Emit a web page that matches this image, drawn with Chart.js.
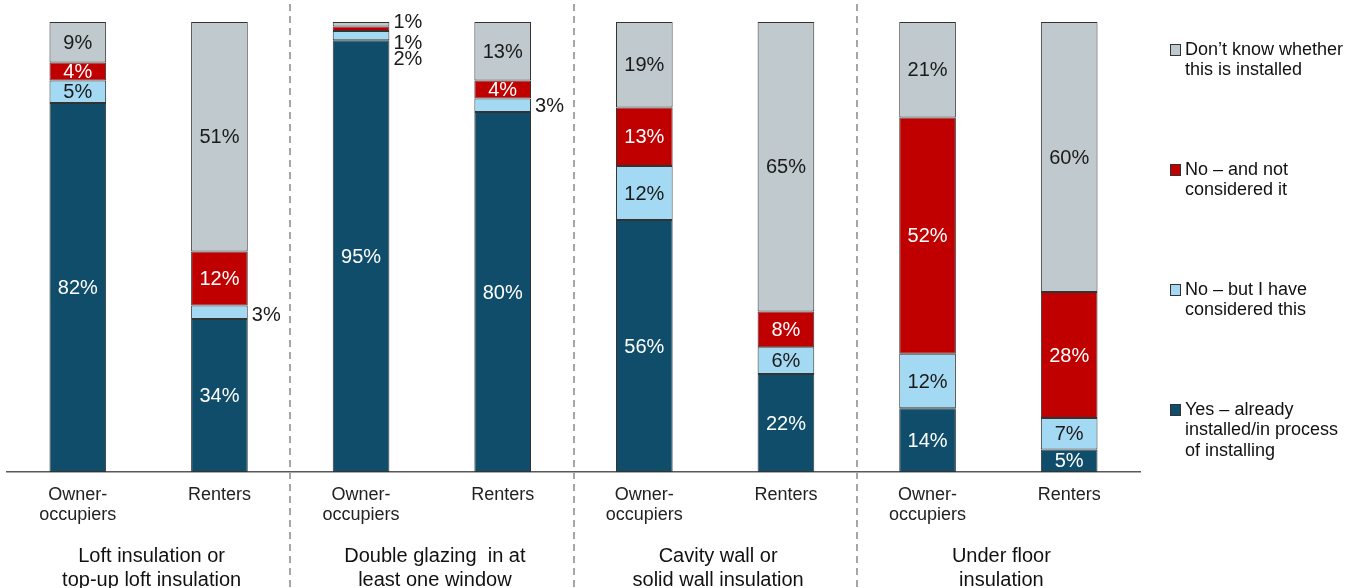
<!DOCTYPE html>
<html>
<head>
<meta charset="utf-8">
<script src="https://cdn.jsdelivr.net/npm/chart.js@4"></script>
<style>
  html, body { margin: 0; padding: 0; background: #fff; }
  #wrap { width: 1361px; height: 588px; }
</style>
</head>
<body>
<div id="wrap"><canvas id="chart" width="1361" height="588"></canvas></div>
<script>
// Bars, left to right
const categories = [
  ['Owner-', 'occupiers'], 'Renters',
  ['Owner-', 'occupiers'], 'Renters',
  ['Owner-', 'occupiers'], 'Renters',
  ['Owner-', 'occupiers'], 'Renters'
];
const groups = [
  ['Loft insulation or', 'top-up loft insulation'],
  ['Double glazing  in at', 'least one window'],
  ['Cavity wall or', 'solid wall insulation'],
  ['Under floor', 'insulation']
];

// Series values (%)
const yesInstalled    = [82, 34, 95, 80, 56, 22, 14, 5];
const noConsidered    = [5, 3, 2, 3, 12, 6, 12, 7];
const noNotConsidered = [4, 12, 1, 4, 13, 8, 52, 28];
const dontKnow        = [9, 51, 1, 13, 19, 65, 21, 60];

const seriesNames = [
  ['Yes \u2013 already', 'installed/in process', 'of installing'],
  ['No \u2013 but I have', 'considered this'],
  ['No \u2013 and not', 'considered it'],
  ['Don\u2019t know whether', 'this is installed']
];
const seriesValues = [yesInstalled, noConsidered, noNotConsidered, dontKnow];
const colors = ['#0f4d6b', '#a4d9f3', '#c00000', '#bfc9ce'];
const labelColors = ['#ffffff', '#1a1a1a', '#ffffff', '#1a1a1a'];

const FONT = '"Liberation Sans", Arial, sans-serif';

// labels placed to the right of the bar: [dataset, index, dy]
const outsideLabels = [[1, 1, 3], [3, 2, -2], [2, 2, 15], [1, 2, 24], [1, 3, 1]];

// bars are drawn as share of their total so every column reaches 100
const totals = categories.map((_, i) => seriesValues.reduce((s, arr) => s + arr[i], 0));

const datasets = seriesValues.map((vals, k) => ({
  label: seriesNames[k].join(' '),
  data: vals.map((v, i) => v / totals[i] * 100),
  raw: vals,
  backgroundColor: colors[k],
  borderColor: '#333',
  borderWidth: 1,
  borderSkipped: false,
  categoryPercentage: 1,
  barPercentage: 0.4
}));

const decorPlugin = {
  id: 'decor',
  beforeDatasetsDraw(chart) {
    const ctx = chart.ctx;
    const x = chart.scales.x;
    ctx.save();
    ctx.strokeStyle = '#a6a6a6';
    ctx.lineWidth = 2;
    ctx.setLineDash([7, 5]);
    [2, 4, 6].forEach(i => {
      const px = Math.round((x.getPixelForValue(i - 1) + x.getPixelForValue(i)) / 2);
      ctx.beginPath();
      ctx.moveTo(px, 4);
      ctx.lineTo(px, chart.height);
      ctx.stroke();
    });
    ctx.restore();
  },
  afterDatasetsDraw(chart) {
    const ctx = chart.ctx;
    ctx.save();
    ctx.font = '20px ' + FONT;
    ctx.textBaseline = 'middle';
    chart.data.datasets.forEach((ds, k) => {
      const meta = chart.getDatasetMeta(k);
      meta.data.forEach((bar, i) => {
        const txt = ds.raw[i] + '%';
        const cy = (bar.y + bar.base) / 2;
        const out = outsideLabels.find(o => o[0] === k && o[1] === i);
        if (out) {
          ctx.fillStyle = '#1a1a1a';
          ctx.textAlign = 'left';
          ctx.fillText(txt, bar.x + bar.width / 2 + 4, cy + out[2]);
        } else {
          ctx.fillStyle = labelColors[k];
          ctx.textAlign = 'center';
          ctx.fillText(txt, bar.x, cy + 1);
        }
      });
    });

    // group titles under the axis
    const x = chart.scales.x;
    ctx.fillStyle = '#111';
    ctx.textAlign = 'center';
    ctx.font = '20px ' + FONT;
    groups.forEach((lines, g) => {
      const cx = (x.getPixelForValue(g * 2) + x.getPixelForValue(g * 2 + 1)) / 2 + 3;
      lines.forEach((ln, j) => ctx.fillText(ln, cx, 556 + j * 24));
    });

    // legend
    ctx.font = '18px ' + FONT;
    ctx.textAlign = 'left';
    const order = [3, 2, 1, 0];
    order.forEach((k, n) => {
      const y0 = 50 + n * 120;
      ctx.fillStyle = colors[k];
      ctx.fillRect(1171, y0 - 5, 9, 10);
      ctx.strokeStyle = '#333';
      ctx.lineWidth = 1;
      ctx.setLineDash([]);
      ctx.strokeRect(1170.5, y0 - 5.5, 10, 11);
      ctx.fillStyle = '#111';
      seriesNames[k].forEach((ln, j) => ctx.fillText(ln, 1185, y0 + j * 20.5));
    });
    ctx.restore();
  }
};

new Chart(document.getElementById('chart').getContext('2d'), {
  type: 'bar',
  data: { labels: categories, datasets },
  options: {
    responsive: false,
    animation: false,
    layout: { padding: { top: 22, left: 7, right: 221, bottom: 0 } },
    plugins: {
      legend: { display: false },
      tooltip: { enabled: false }
    },
    scales: {
      x: {
        stacked: true,
        grid: { display: false, drawTicks: false },
        border: { display: true, color: '#595959', width: 1.5 },
        ticks: {
          padding: 13,
          color: '#222',
          maxRotation: 0,
          autoSkip: false,
          font: { family: FONT, size: 18, lineHeight: 1.12 }
        },
        afterFit(scale) { scale.height = 116; }
      },
      y: {
        stacked: true,
        display: false,
        min: 0,
        max: 100
      }
    }
  },
  plugins: [decorPlugin]
});
</script>
</body>
</html>
